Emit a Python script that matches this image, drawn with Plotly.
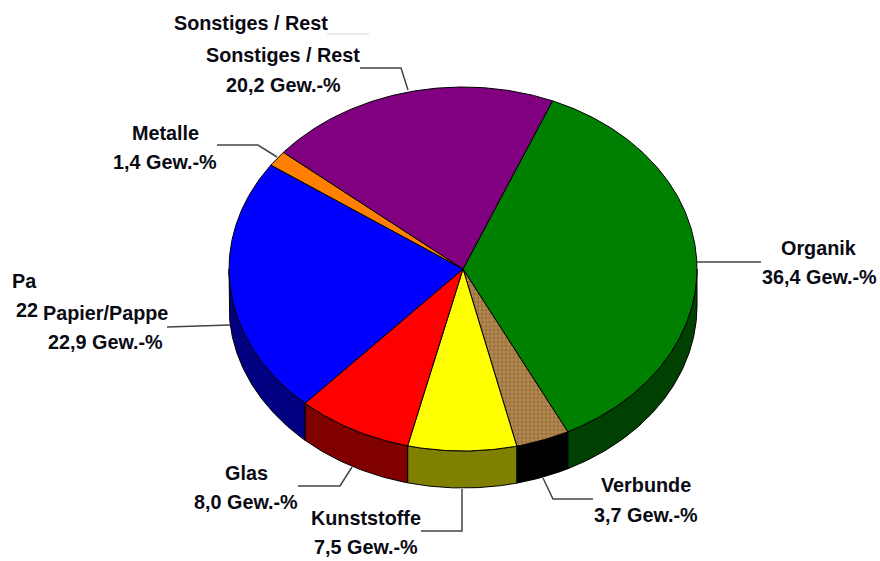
import numpy as np
import plotly.graph_objects as go

categories = ["Organik", "Verbunde", "Kunststoffe", "Glas", "Papier/Pappe", "Metalle", "Sonstiges / Rest"]
values = [36.4, 3.7, 7.5, 8.0, 22.9, 1.4, 20.2]
value_labels = ["36,4 Gew.-%", "3,7 Gew.-%", "7,5 Gew.-%", "8,0 Gew.-%", "22,9 Gew.-%", "1,4 Gew.-%", "20,2 Gew.-%"]
top_colors = ["#008000", "#a87a44", "#ffff00", "#ff0000", "#0000ff", "#ff8000", "#800080"]
side_colors = ["#004000", "#000000", "#808000", "#800000", "#000080", "#804000", "#400040"]

# geometry of the tilted pie, in pixels of the 880x561 page
CX, CY, RX, RY, DEPTH, START = 463, 269, 234, 182, 37, 22.5

label_pos = {  # centre x, y of first line, y of second line
    "Organik": (819, 248, 277),
    "Verbunde": (646, 485, 515),
    "Kunststoffe": (366, 518, 547),
    "Glas": (246, 473, 502),
    "Papier/Pappe": (105, 313, 342),
    "Metalle": (165, 133, 162),
    "Sonstiges / Rest": (283, 55, 85),
}
leaders = [
    "M697,262 L761,262",
    "M593,499 L553,499 L543,478",
    "M421,531 L462,531 L462,489",
    "M298,486 L340,486 L352,467",
    "M167,327 L230,325",
    "M217,145 L258,145 L277,157",
    "M360,68 L401,68 L408,90",
]

def rim(a1, a2, dy=0.0):
    t = np.radians(np.linspace(a1, a2, max(int(abs(a2 - a1)) * 2, 2) + 1))
    return CX + RX * np.sin(t), CY - RY * np.cos(t) + dy

fractions = np.array(values) / sum(values)
edges = START + 360 * np.concatenate([[0], np.cumsum(fractions)])

fig = go.Figure()

# side walls (only the part of the rim facing the viewer)
for i, name in enumerate(categories):
    a1, a2 = max(edges[i], 90), min(edges[i + 1], 270)
    if a2 <= a1:
        continue
    x1, y1 = rim(a1, a2)
    x2, y2 = rim(a2, a1, DEPTH)
    fig.add_trace(go.Scatter(
        x=np.r_[x1, x2, x1[0]], y=np.r_[y1, y2, y1[0]], mode="lines", fill="toself",
        fillcolor=side_colors[i], line=dict(color="#000000", width=1), hoverinfo="skip", showlegend=False))

# top faces
for i, name in enumerate(categories):
    x, y = rim(edges[i], edges[i + 1])
    kw = dict(fillcolor=top_colors[i])
    if name == "Verbunde":
        kw["fillpattern"] = dict(shape="+", size=4, solidity=0.35, bgcolor="#b58a50", fgcolor="#6a4520")
    fig.add_trace(go.Scatter(
        x=np.r_[CX, x, CX], y=np.r_[CY, y, CY], mode="lines", fill="toself",
        line=dict(color="#000000", width=1), name=name, text=value_labels[i], hoverinfo="name+text",
        showlegend=False, **kw))

FONT = dict(family="Liberation Sans", size=19.8, color="#0a0a14", weight="bold")
ann = []
def text(s, x, y, xanchor="center"):
    ann.append(dict(text=s, x=x, y=y, xref="x", yref="y", xanchor=xanchor, yanchor="middle",
                    showarrow=False, font=FONT))

for name, lab in zip(categories, value_labels):
    cx, y1, y2 = label_pos[name]
    text(name, cx, y1)
    text(lab, cx, y2)

# leftover text fragments of the source image
text("Sonstiges / Rest", 251, 23)
text("Pa", 10, 281, "left")
text("22", 14, 310, "left")

shapes = [dict(type="path", path=p, xref="x", yref="y", line=dict(color="#444444", width=1.5)) for p in leaders]
shapes.append(dict(type="line", x0=327, x1=369, y0=34, y1=34, xref="x", yref="y",
                   line=dict(color="#d8d8d8", width=1)))

fig.update_layout(
    width=880, height=561, margin=dict(l=0, r=0, t=0, b=0),
    paper_bgcolor="#ffffff", plot_bgcolor="#ffffff", showlegend=False,
    xaxis=dict(range=[0, 880], visible=False, fixedrange=True),
    yaxis=dict(range=[561, 0], visible=False, fixedrange=True),
    annotations=ann, shapes=shapes,
)
# drop the page's default body margin so the figure fills the window exactly
fig.write_html("out.html", config=dict(displayModeBar=False),
               post_script="document.body.style.margin='0';document.body.style.overflow='hidden';")
